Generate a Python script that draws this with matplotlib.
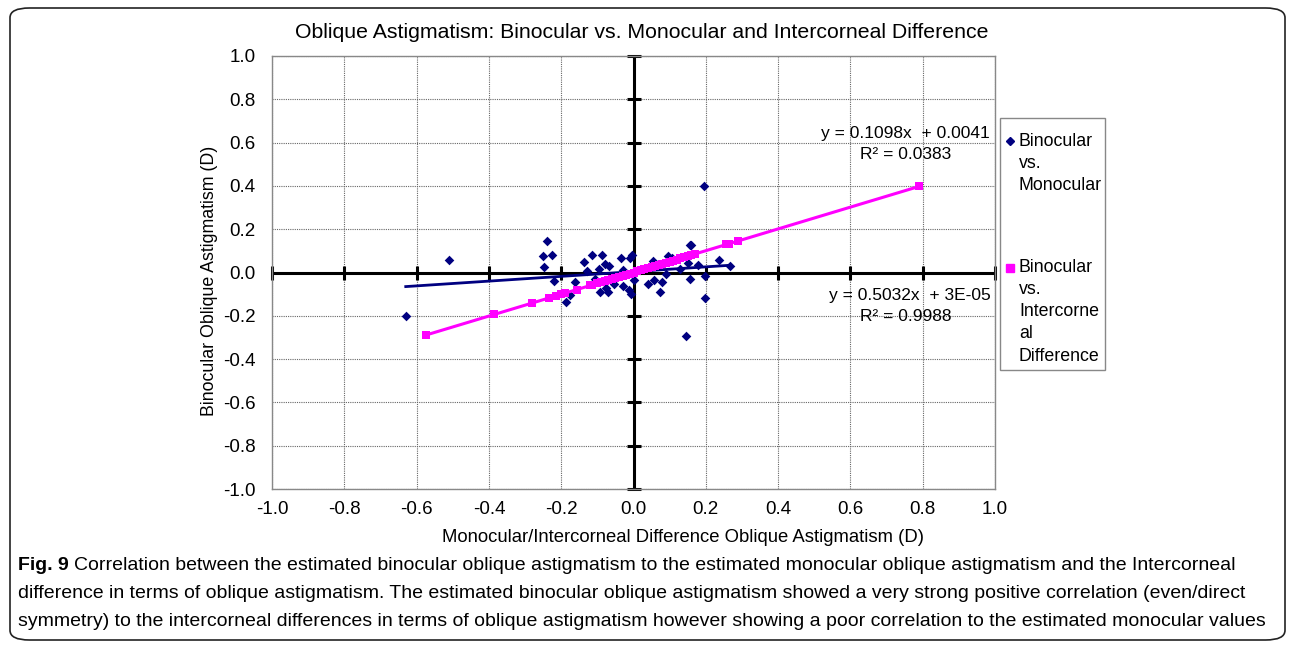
import numpy as np
from matplotlib import pyplot as plt
from matplotlib.patches import FancyBboxPatch, Rectangle
from matplotlib.lines import Line2D

plt.rcParams['font.family'] = ['Liberation Sans', 'DejaVu Sans']
plt.rcParams['axes.unicode_minus'] = False

# Binocular vs. Monocular
mono_x = [-0.63, -0.51, -0.24, -0.25, -0.225, -0.248, -0.22, -0.188, -0.175, -0.162,
          -0.136, -0.116, -0.087, -0.079, -0.068, -0.096, -0.129, -0.107, -0.092, -0.070,
          -0.076, -0.055, -0.035, -0.011, -0.004, -0.028, -0.030, -0.013, -0.006, 0.002,
          0.040, 0.058, 0.079, 0.072, 0.055, 0.095, 0.107, 0.090, 0.130, 0.155,
          0.160, 0.151, 0.157, 0.179, 0.199, 0.197, 0.236, 0.267, 0.146, 0.194]
mono_y = [-0.20, 0.06, 0.145, 0.074, 0.079, 0.025, -0.037, -0.134, -0.105, -0.042,
          0.048, 0.079, 0.080, 0.040, 0.032, 0.017, 0.009, -0.029, -0.091, -0.091,
          -0.072, -0.052, 0.068, 0.068, 0.082, 0.012, -0.063, -0.083, -0.098, -0.034,
          -0.055, -0.034, -0.042, -0.091, 0.055, 0.074, 0.068, -0.006, 0.017, 0.129,
          0.129, 0.043, -0.031, 0.036, -0.018, -0.120, 0.059, 0.028, -0.291, 0.40]

# Binocular vs. Intercorneal Difference
icd_x = [-0.575, -0.385, -0.28, -0.235, -0.215, -0.20, -0.19, -0.155, -0.12, -0.115,
         -0.10, -0.09, -0.08, -0.07, -0.06, -0.05, -0.04, -0.03, -0.02, -0.01,
         0.0, 0.01, 0.02, 0.03, 0.04, 0.05, 0.06, 0.07, 0.08, 0.09,
         0.10, 0.11, 0.12, 0.13, 0.14, 0.15, 0.16, 0.17, 0.255, 0.265, 0.29, 0.79]
icd_y = [-0.29, -0.19, -0.14, -0.12, -0.11, -0.10, -0.095, -0.08, -0.06, -0.058,
         -0.05, -0.045, -0.04, -0.035, -0.03, -0.025, -0.02, -0.015, -0.01, -0.005,
         0.0, 0.005, 0.01, 0.015, 0.02, 0.025, 0.03, 0.035, 0.04, 0.045,
         0.05, 0.055, 0.06, 0.065, 0.07, 0.075, 0.08, 0.085, 0.13, 0.13, 0.145, 0.40]

# trendlines as printed on the chart
mono_fit = (0.1098, 0.0041)
icd_fit = (0.5032, 3e-05)

ticks = [-1.0, -0.8, -0.6, -0.4, -0.2, 0.0, 0.2, 0.4, 0.6, 0.8, 1.0]

navy = '#000080'
pink = '#FF00FF'
W, H = 1292, 645


def fx(px):
    return px / W


def fy(py):
    return 1 - py / H


fig = plt.figure(figsize=(12.92, 6.45), dpi=100)

# rounded frame around figure + caption
fig.patches.append(FancyBboxPatch((fx(10), fy(640)), 1275 / W, 632 / H,
                                  boxstyle='round,pad=0,rounding_size=0.015',
                                  transform=fig.transFigure, fill=False,
                                  edgecolor='#222222', linewidth=1.2))

ax = fig.add_axes([fx(272), fy(489), 723 / W, 433 / H])
ax.set_xlim(-1, 1)
ax.set_ylim(-1, 1)
ax.set_xticks(ticks)
ax.set_yticks(ticks)
ax.set_xticklabels(['%.1f' % t for t in ticks])
ax.set_yticklabels(['%.1f' % t for t in ticks])
ax.tick_params(length=0, labelsize=13.5)
ax.tick_params(axis='x', pad=9)
ax.tick_params(axis='y', pad=12)
ax.grid(True, color='#666666', linestyle=(0, (1, 1)), linewidth=0.8)
for s in ax.spines.values():
    s.set_color('#888888')
    s.set_linewidth(1)

# zero axes with crossing tick marks
ax.axhline(0, color='black', linewidth=2.2, zorder=2)
ax.axvline(0, color='black', linewidth=2.2, zorder=2)
ax.plot(ticks, [0] * len(ticks), linestyle='none', marker='|', markersize=10,
        markeredgewidth=2.2, color='black', zorder=2, clip_on=False)
ax.plot([0] * len(ticks), ticks, linestyle='none', marker='_', markersize=10,
        markeredgewidth=2.2, color='black', zorder=2, clip_on=False)

ax.scatter(mono_x, mono_y, marker='D', s=24, color=navy, zorder=3, linewidths=0)
ax.scatter(icd_x, icd_y, marker='s', s=32, color=pink, zorder=4, linewidths=0)

xs = np.array([min(mono_x), max(mono_x)])
ax.plot(xs, mono_fit[0] * xs + mono_fit[1], color=navy, linewidth=2, zorder=3)
xs = np.array([min(icd_x), max(icd_x)])
ax.plot(xs, icd_fit[0] * xs + icd_fit[1], color=pink, linewidth=2.2, zorder=4)

ax.text(0.752, 0.642, 'y = 0.1098x  + 0.0041', ha='center', va='center', fontsize=12.5)
ax.text(0.752, 0.545, 'R² = 0.0383', ha='center', va='center', fontsize=12.5)
ax.text(0.765, -0.106, 'y = 0.5032x  + 3E-05', ha='center', va='center', fontsize=12.5)
ax.text(0.752, -0.203, 'R² = 0.9988', ha='center', va='center', fontsize=12.5)

fig.text(fx(642), fy(33),
         'Oblique Astigmatism: Binocular vs. Monocular and Intercorneal Difference',
         ha='center', va='center', fontsize=15.3)
fig.text(fx(210), fy(281), 'Binocular Oblique Astigmatism (D)',
         rotation=90, ha='center', va='center', fontsize=12.8)
fig.text(fx(683), fy(538),
         'Monocular/Intercorneal Difference Oblique Astigmatism (D)',
         ha='center', va='center', fontsize=13.3)

# legend, laid out by hand like the Excel one
fig.patches.append(Rectangle((fx(1000), fy(370)), 105 / W, 252 / H,
                             transform=fig.transFigure, fill=False,
                             edgecolor='#888888', linewidth=1))
leg_labels = [['Binocular', 'vs.', 'Monocular'],
              ['Binocular', 'vs.', 'Intercorne', 'al', 'Difference']]
leg_marks = [('D', navy, 4), ('s', pink, 5.5)]
leg_top = [141, 268]
for lines, (mk, col, ms), top in zip(leg_labels, leg_marks, leg_top):
    fig.lines.append(Line2D([fx(1010)], [fy(top)], marker=mk, color=col, markersize=ms,
                            linestyle='none', transform=fig.transFigure))
    for i, t in enumerate(lines):
        fig.text(fx(1019), fy(top + 22 * i), t, ha='left', va='center', fontsize=12.8)

# caption
cap = ['Correlation between the estimated binocular oblique astigmatism to the estimated monocular oblique astigmatism and the Intercorneal',
       'difference in terms of oblique astigmatism. The estimated binocular oblique astigmatism showed a very strong positive correlation (even/direct',
       'symmetry) to the intercorneal differences in terms of oblique astigmatism however showing a poor correlation to the estimated monocular values']
cap_y = [566, 594, 621]
r = fig.canvas.get_renderer()
fs = 12
fig_lbl = fig.text(fx(18), fy(cap_y[0]), 'Fig. 9', fontsize=fs, fontweight='bold',
                   va='center', ha='left')
t0 = fig.text(fx(18), fy(cap_y[0]), cap[0], fontsize=fs, va='center', ha='left')
# scale caption font so the first line spans the same width as in the picture
w = fig_lbl.get_window_extent(r).width + 5 + t0.get_window_extent(r).width
fs = fs * 1217 / w
fig_lbl.set_fontsize(fs)
t0.set_fontsize(fs)
bb = fig_lbl.get_window_extent(r)
t0.set_x(fx(bb.x1 + 5))
for line, y in zip(cap[1:], cap_y[1:]):
    fig.text(fx(18), fy(y), line, fontsize=fs, va='center', ha='left')

fig.savefig('out.png', dpi=100)
